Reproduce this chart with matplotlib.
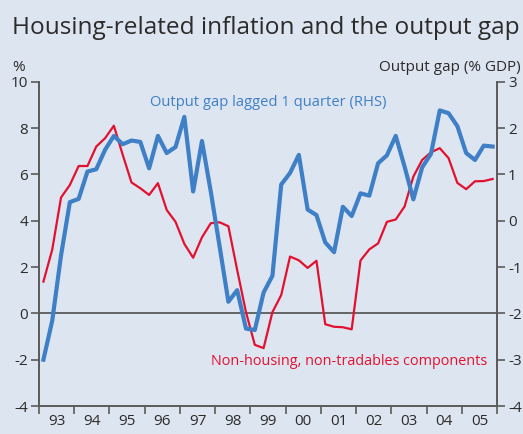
import matplotlib.pyplot as plt
import numpy as np

plt.rcParams['font.family'] = ['Open Sans', 'DejaVu Sans']
plt.rcParams['axes.unicode_minus'] = False

BG = "#dde5f1"
TXT = "#2b2b2b"
AX = "#5a5a5a"
BLUE = "#3f7fc6"
RED = "#e2112f"

# quarterly data, Q1 1993 .. Q4 2005
start_year = 1993
years = [str(y)[-2:] for y in range(1993, 2006)]

# non-housing, non-tradables inflation (%, LHS)
non_housing = [
    1.37, 2.75, 5.0, 5.54,
    6.36, 6.36, 7.2, 7.56,
    8.1, 6.85, 5.65, 5.4,
    5.11, 5.62, 4.46, 3.95,
    3.0, 2.4, 3.28, 3.89,
    3.93, 3.76, 1.87, 0.05,
    -1.36, -1.5, 0.05, 0.79,
    2.45, 2.29, 1.96, 2.27,
    -0.47, -0.58, -0.6, -0.69,
    2.28, 2.76, 3.02, 3.95,
    4.05, 4.61, 5.9, 6.62,
    6.95, 7.13, 6.7, 5.63,
    5.36, 5.7, 5.71, 5.8,
]

# output gap lagged one quarter (% GDP, RHS)
output_gap = [
    -3.0, -2.16, -0.75, 0.4,
    0.47, 1.06, 1.11, 1.53,
    1.83, 1.65, 1.73, 1.7,
    1.13, 1.83, 1.46, 1.59,
    2.24, 0.63, 1.72, 0.63,
    -0.55, -1.75, -1.5, -2.33,
    -2.36, -1.55, -1.19, 0.78,
    1.03, 1.42, 0.24, 0.12,
    -0.47, -0.68, 0.3, 0.1,
    0.59, 0.54, 1.24, 1.41,
    1.83, 1.17, 0.46, 1.15,
    1.44, 2.38, 2.32, 2.04,
    1.46, 1.31, 1.62, 1.6,
]

quarters = start_year + (np.arange(len(non_housing)) + 0.5) / 4

fig = plt.figure(figsize=(5.23, 4.34), dpi=100, facecolor=BG)
ax = fig.add_axes([0.0746, 0.0645, 0.8757, 0.7473], facecolor=BG)
ax2 = ax.twinx()

ax.axhline(0, color=AX, lw=1.3, zorder=1)
ax.plot(quarters, non_housing, color=RED, lw=1.6, zorder=3)
ax2.plot(quarters, output_gap, color=BLUE, lw=3.0, zorder=2)

ax.set_xlim(1993, 2006)
ax.set_ylim(-4, 10)
ax2.set_ylim(-4, 3)
ax.set_yticks(np.arange(-4, 11, 2))
ax2.set_yticks(np.arange(-4, 4, 1))

ax.set_xticks(np.arange(1993, 2007))
ax.set_xticklabels([])
ax.set_xticks(np.arange(1993, 2006) + 0.5, minor=True)
ax.set_xticklabels(years, minor=True)
ax.tick_params(axis='x', which='major', length=6, width=1.2, color=AX)
ax.tick_params(axis='x', which='minor', length=0, pad=6, labelsize=11, labelcolor=TXT)
ax.tick_params(axis='y', length=6, width=1.2, color=AX, labelsize=11, labelcolor=TXT, pad=2)
ax2.tick_params(axis='y', length=6, width=1.2, color=AX, labelsize=11, labelcolor=TXT, pad=2)

for a in (ax, ax2):
    a.spines['top'].set_visible(False)
    for s in ('left', 'right', 'bottom'):
        a.spines[s].set_color(AX)
        a.spines[s].set_linewidth(1.2)

ax.text(1999.51, 9.11, "Output gap lagged 1 quarter (RHS)", color=BLUE,
        fontsize=10.6, ha='center', va='center')
ax.text(2001.8, -2.06, "Non-housing, non-tradables components", color=RED,
        fontsize=10.4, ha='center', va='center')

fig.text(0.023, 0.935, "Housing-related inflation and the output gap",
         fontsize=17.6, color=TXT, ha='left', va='center')
fig.text(0.023, 0.845, "%", fontsize=11, color=TXT, ha='left', va='center')
fig.text(0.996, 0.845, "Output gap (% GDP)", fontsize=11, color=TXT,
         ha='right', va='center')

fig.savefig("out.png", dpi=100, facecolor=BG)
